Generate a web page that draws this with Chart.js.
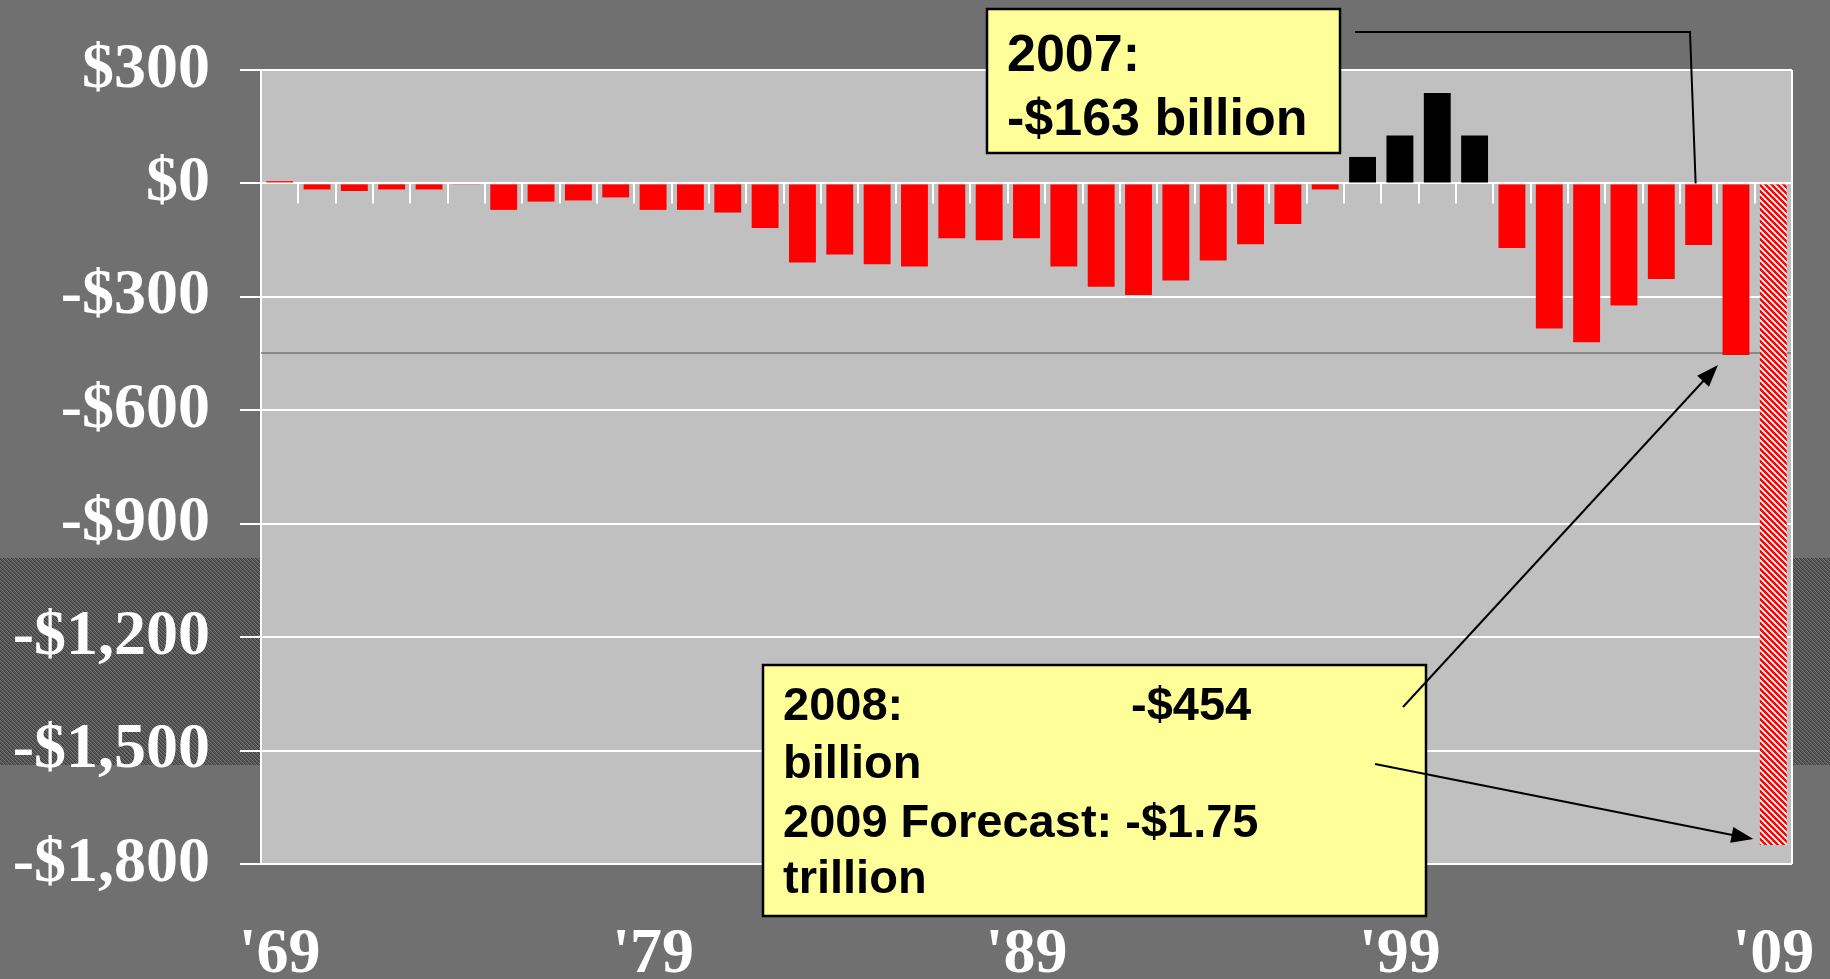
<!DOCTYPE html>
<html>
<head>
<meta charset="utf-8">
<script src="https://cdn.jsdelivr.net/npm/chart.js@4"></script>
<style>
  html, body { margin: 0; padding: 0; background: #707070; overflow: hidden; }
</style>
</head>
<body>
<canvas id="deficitChart" width="1830" height="979"></canvas>
<script>
// fiscal years on the category axis
const years = ['1969', '1970', '1971', '1972', '1973', '1974', '1975', '1976', '1977', '1978',
               '1979', '1980', '1981', '1982', '1983', '1984', '1985', '1986', '1987', '1988',
               '1989', '1990', '1991', '1992', '1993', '1994', '1995', '1996', '1997', '1998',
               '1999', '2000', '2001', '2002', '2003', '2004', '2005', '2006', '2007', '2008',
               '2009'];

// surplus (+) / deficit (-), billions of dollars
const deficits = [6, -16, -20, -16, -16, -3, -70, -48, -45, -37,
                  -70, -70, -77, -118, -209, -188, -214, -220, -145, -150,
                  -145, -220, -273, -295, -257, -204, -161, -107, -16, 70,
                  127, 239, 127, -171, -384, -420, -323, -253, -163, -454,
                  -1750];

const surplusYears = ['1998', '1999', '2000', '2001'];
const forecastYear = '2009';

// only every tenth year gets a label
const tickLabels = ["'69", "'79", "'89", "'99", "'09"];

const serif = "'Liberation Serif', 'Times New Roman', serif";
const sans = "'Liberation Sans', Arial, sans-serif";

// red / white diagonal hatch for the forecast bar
function makeHatch() {
    const c = document.createElement('canvas');
    c.width = 6; c.height = 6;
    const p = c.getContext('2d');
    p.fillStyle = '#ff0000';
    p.fillRect(0, 0, 6, 6);
    p.strokeStyle = '#ffffff';
    p.lineWidth = 1.8;
    p.beginPath();
    p.moveTo(-1, -1); p.lineTo(7, 7);
    p.moveTo(-1, 5); p.lineTo(1, 7);
    p.moveTo(5, -1); p.lineTo(7, 1);
    p.stroke();
    return p.createPattern(c, 'repeat');
}

// dark textured strip behind the slide
function makeBand() {
    const c = document.createElement('canvas');
    c.width = 4; c.height = 4;
    const p = c.getContext('2d');
    p.fillStyle = '#555555';
    p.fillRect(0, 0, 4, 4);
    for (let i = 0; i < 4; i++) {
        p.fillStyle = '#767676';
        p.fillRect(i, i, 1, 1);
        p.fillStyle = '#3e3e3e';
        p.fillRect((i + 2) % 4, (i + 1) % 4, 1, 1);
    }
    return p.createPattern(c, 'repeat');
}

const hatch = makeHatch();
const band = makeBand();

const barColors = years.map(y => y === forecastYear ? hatch : (surplusYears.includes(y) ? '#000000' : '#ff0000'));

function money(v) {
    if (v === 0) return '$0';
    const s = '$' + Math.abs(v).toLocaleString('en-US');
    return v < 0 ? '-' + s : s;
}

function arrow(ctx, x1, y1, x2, y2) {
    const ang = Math.atan2(y2 - y1, x2 - x1);
    const len = 22, half = 8;
    ctx.beginPath();
    ctx.moveTo(x1, y1);
    ctx.lineTo(x2 - Math.cos(ang) * (len - 2), y2 - Math.sin(ang) * (len - 2));
    ctx.stroke();
    ctx.beginPath();
    ctx.moveTo(x2, y2);
    ctx.lineTo(x2 - len * Math.cos(ang) + half * Math.sin(ang), y2 - len * Math.sin(ang) - half * Math.cos(ang));
    ctx.lineTo(x2 - len * Math.cos(ang) - half * Math.sin(ang), y2 - len * Math.sin(ang) + half * Math.cos(ang));
    ctx.closePath();
    ctx.fill();
}

function noteBox(ctx, x, y, w, h) {
    ctx.fillStyle = '#ffff99';
    ctx.fillRect(x, y, w, h);
    ctx.strokeStyle = '#000000';
    ctx.lineWidth = 2.5;
    ctx.strokeRect(x, y, w, h);
}

const slidePlugin = {
    id: 'slide',
    beforeDraw(chart) {
        const {ctx, chartArea: a, width} = chart;
        ctx.save();
        ctx.fillStyle = '#707070';
        ctx.fillRect(0, 0, width, chart.height);
        ctx.fillStyle = band;
        ctx.fillRect(0, 558, width, 207);
        ctx.fillStyle = '#c0c0c0';
        ctx.fillRect(a.left, a.top, a.right - a.left, a.bottom - a.top);
        ctx.restore();
    },
    beforeDatasetsDraw(chart) {
        const {ctx, chartArea: a} = chart;
        const xs = chart.scales.x, ys = chart.scales.y;
        ctx.save();
        // level of the 2008 deficit
        const yRef = ys.getPixelForValue(deficits[years.indexOf('2008')]) - 2;
        ctx.strokeStyle = '#777777';
        ctx.lineWidth = 1.5;
        ctx.beginPath();
        ctx.moveTo(a.left, yRef);
        ctx.lineTo(a.right, yRef);
        ctx.stroke();
        // right frame edge
        ctx.strokeStyle = '#ffffff';
        ctx.lineWidth = 2;
        ctx.beginPath();
        ctx.moveTo(a.right, a.top);
        ctx.lineTo(a.right, a.bottom);
        ctx.stroke();
        // category tick marks hanging from the zero line
        const y0 = ys.getPixelForValue(0);
        ctx.beginPath();
        for (let i = 1; i < years.length; i++) {
            const bx = Math.round((xs.getPixelForValue(i - 1) + xs.getPixelForValue(i)) / 2);
            ctx.moveTo(bx, y0);
            ctx.lineTo(bx, y0 + 20);
        }
        ctx.stroke();
        ctx.restore();
    },
    afterDraw(chart) {
        const ctx = chart.ctx;
        const xs = chart.scales.x, ys = chart.scales.y;
        const y0 = ys.getPixelForValue(0);
        const i07 = years.indexOf('2007'), i08 = years.indexOf('2008'), i09 = years.indexOf('2009');
        ctx.save();

        // 2007 callout
        noteBox(ctx, 987, 9, 353, 144);
        ctx.fillStyle = '#000000';
        ctx.font = 'bold 52px ' + sans;
        ctx.textBaseline = 'alphabetic';
        ctx.fillText('2007:', 1007, 71);
        ctx.fillText('-$163 billion', 1007, 135);
        ctx.strokeStyle = '#000000';
        ctx.lineWidth = 2;
        ctx.beginPath();
        ctx.moveTo(1355, 32);
        ctx.lineTo(1690, 32);
        ctx.lineTo(xs.getPixelForValue(i07) - 3, y0);
        ctx.stroke();

        // 2008 / 2009 callout
        noteBox(ctx, 763, 665, 663, 251);
        ctx.fillStyle = '#000000';
        ctx.font = 'bold 47px ' + sans;
        ctx.fillText('2008:', 783, 720);
        ctx.fillText('-$454', 1131, 720);
        ctx.fillText('billion', 783, 778);
        ctx.fillText('2009 Forecast: -$1.75', 783, 837);
        ctx.fillText('trillion', 783, 893);

        ctx.strokeStyle = '#000000';
        ctx.fillStyle = '#000000';
        ctx.lineWidth = 2;
        arrow(ctx, 1403, 707, xs.getPixelForValue(i08) - 18, ys.getPixelForValue(deficits[i08]) + 10);
        arrow(ctx, 1375, 764, xs.getPixelForValue(i09) - 20, ys.getPixelForValue(deficits[i09]) - 6);
        ctx.restore();
    }
};

new Chart(document.getElementById('deficitChart'), {
    type: 'bar',
    data: {
        labels: years,
        datasets: [{
            label: 'Budget balance ($ billions)',
            data: deficits,
            backgroundColor: barColors,
            borderWidth: 0,
            barPercentage: 0.72,
            categoryPercentage: 1.0
        }]
    },
    options: {
        responsive: false,
        animation: false,
        layout: {
            padding: { top: 70, right: 38, bottom: 0, left: 0 }
        },
        plugins: {
            legend: { display: false },
            tooltip: { enabled: false }
        },
        scales: {
            x: {
                offset: true,
                grid: { display: false, drawTicks: false },
                border: { display: false },
                ticks: {
                    autoSkip: false,
                    maxRotation: 0,
                    minRotation: 0,
                    color: '#ffffff',
                    padding: 53,
                    font: { family: serif, size: 64, weight: 'bold' },
                    callback: (v, i) => i % 10 === 0 ? tickLabels[i / 10] : ''
                },
                afterFit(s) {
                    s.height = 115;
                    s.paddingLeft = 0;
                    s.paddingRight = 0;
                }
            },
            y: {
                min: -1800,
                max: 300,
                grid: {
                    color: '#ffffff',
                    lineWidth: 2,
                    tickLength: 21,
                    tickColor: '#ffffff'
                },
                border: { color: '#ffffff', width: 2 },
                ticks: {
                    stepSize: 300,
                    color: '#ffffff',
                    padding: 30,
                    font: { family: serif, size: 64, weight: 'bold' },
                    callback: v => money(v)
                },
                afterFit(s) {
                    s.width = 261;
                }
            }
        }
    },
    plugins: [slidePlugin]
});
</script>
</body>
</html>
